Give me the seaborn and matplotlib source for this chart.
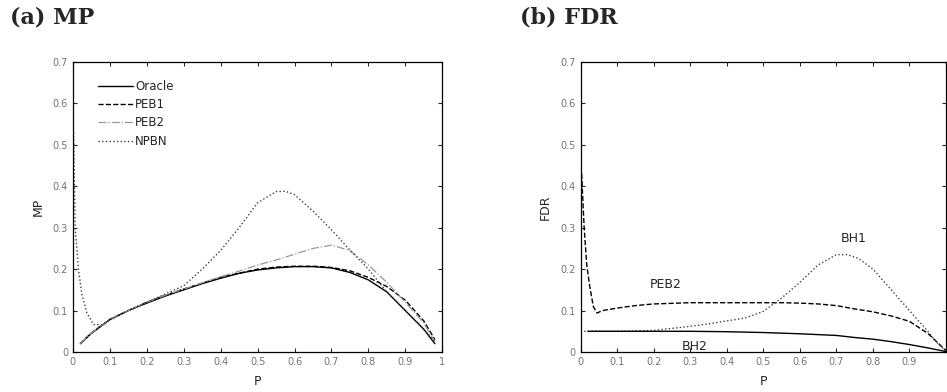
import matplotlib
matplotlib.use("Agg")
import matplotlib.pyplot as plt
import seaborn as sns

# ---- panel (a): MP ----
p_mp = [0.02, 0.05, 0.1, 0.15, 0.2, 0.25, 0.3, 0.35, 0.4, 0.45, 0.5,
        0.55, 0.6, 0.65, 0.7, 0.75, 0.8, 0.85, 0.9, 0.95, 0.98]
mp_oracle = [0.02, 0.045, 0.078, 0.1, 0.118, 0.135, 0.15, 0.165, 0.178, 0.19, 0.198,
             0.203, 0.206, 0.206, 0.203, 0.192, 0.174, 0.145, 0.1, 0.055, 0.02]
mp_peb1 = [0.02, 0.046, 0.079, 0.1, 0.12, 0.137, 0.152, 0.166, 0.18, 0.19, 0.2,
           0.205, 0.207, 0.207, 0.204, 0.196, 0.18, 0.158, 0.125, 0.075, 0.03]
mp_peb2 = [0.02, 0.046, 0.079, 0.1, 0.12, 0.137, 0.152, 0.167, 0.182, 0.195, 0.21,
           0.222, 0.236, 0.25, 0.258, 0.245, 0.21, 0.168, 0.12, 0.07, 0.025]
p_npbn = [0.002, 0.006, 0.015, 0.024, 0.038, 0.056, 0.08, 0.1, 0.15, 0.2, 0.25, 0.3,
          0.35, 0.4, 0.45, 0.5, 0.55, 0.575, 0.6, 0.65, 0.7, 0.75, 0.8, 0.85,
          0.9, 0.95, 0.98]
mp_npbn = [0.53, 0.3, 0.2, 0.14, 0.094, 0.066, 0.066, 0.078, 0.1, 0.12, 0.14, 0.16,
           0.2, 0.245, 0.3, 0.36, 0.387, 0.388, 0.38, 0.34, 0.295, 0.246, 0.2, 0.145,
           0.1, 0.055, 0.025]

# ---- panel (b): FDR ----
p_peb2_fdr = [0.003, 0.01, 0.017, 0.025, 0.035, 0.045, 0.06, 0.1, 0.15, 0.2, 0.3,
              0.4, 0.5, 0.55, 0.6, 0.65, 0.7, 0.75, 0.8, 0.85, 0.9, 0.95, 0.98, 1.0]
fdr_peb2 = [0.43, 0.3, 0.21, 0.16, 0.11, 0.094, 0.1, 0.106, 0.112, 0.116, 0.119,
            0.119, 0.119, 0.119, 0.118, 0.116, 0.112, 0.104, 0.097, 0.087, 0.074,
            0.045, 0.02, 0.003]
p_bh1 = [0.0, 0.1, 0.2, 0.3, 0.35, 0.4, 0.45, 0.5, 0.55, 0.6, 0.65, 0.7, 0.73,
         0.76, 0.8, 0.85, 0.9, 0.95, 0.98, 1.0]
fdr_bh1 = [0.05, 0.05, 0.052, 0.062, 0.068, 0.075, 0.082, 0.098, 0.13, 0.168, 0.21,
           0.235, 0.235, 0.226, 0.2, 0.15, 0.1, 0.05, 0.018, 0.002]
p_bh2 = [0.02, 0.1, 0.2, 0.3, 0.4, 0.5, 0.6, 0.7, 0.75, 0.8, 0.85, 0.9, 0.95, 1.0]
fdr_bh2 = [0.05, 0.05, 0.05, 0.05, 0.049, 0.047, 0.044, 0.04, 0.035, 0.031, 0.025,
           0.018, 0.01, 0.001]

x_ticks = [0, 0.1, 0.2, 0.3, 0.4, 0.5, 0.6, 0.7, 0.8, 0.9, 1]
y_ticks = [0, 0.1, 0.2, 0.3, 0.4, 0.5, 0.6, 0.7]

sns.set_style("ticks")
plt.rcParams["font.family"] = ["DejaVu Sans"]

fig = plt.figure(figsize=(9.47, 3.92), dpi=100)
ax_a = fig.add_axes([0.077, 0.102, 0.390, 0.740])
ax_b = fig.add_axes([0.613, 0.102, 0.386, 0.740])


def style_axes(ax, ylabel, show_last_x=True):
    ax.set_xlim(0, 1)
    ax.set_ylim(0, 0.7)
    ax.set_xticks(x_ticks)
    ax.set_yticks(y_ticks)
    xlabels = [f"{t:g}" for t in x_ticks]
    if not show_last_x:
        xlabels[-1] = ""  # right edge of panel (b) is cut in the original
    ax.set_xticklabels(xlabels, color="0.45", fontsize=7)
    ax.set_yticklabels([f"{t:g}" for t in y_ticks], color="0.45", fontsize=7)
    ax.tick_params(direction="in", top=True, right=True, length=3, width=0.8)
    for s in ax.spines.values():
        s.set_visible(True)
        s.set_linewidth(0.9)
        s.set_color("black")
    ax.set_xlabel("P", fontsize=9, labelpad=6)
    ax.set_ylabel(ylabel, fontsize=9, labelpad=6)


sns.lineplot(x=p_mp, y=mp_oracle, ax=ax_a, color="black", linewidth=1.0, label="Oracle")
sns.lineplot(x=p_mp, y=mp_peb1, ax=ax_a, color="black", linewidth=1.0,
             linestyle="--", label="PEB1")
sns.lineplot(x=p_mp, y=mp_peb2, ax=ax_a, color="0.6", linewidth=0.9,
             linestyle="-.", label="PEB2")
sns.lineplot(x=p_npbn, y=mp_npbn, ax=ax_a, color="0.25", linewidth=1.0,
             linestyle=":", label="NPBN")
style_axes(ax_a, "MP")
ax_a.legend(loc="upper left", frameon=False, fontsize=8.5, handlelength=2.9,
            handletextpad=0.2, labelspacing=0.45, bbox_to_anchor=(0.04, 0.975))

sns.lineplot(x=p_peb2_fdr, y=fdr_peb2, ax=ax_b, color="black", linewidth=1.0,
             linestyle="--")
sns.lineplot(x=p_bh1, y=fdr_bh1, ax=ax_b, color="0.25", linewidth=1.0, linestyle=":")
sns.lineplot(x=p_bh2, y=fdr_bh2, ax=ax_b, color="black", linewidth=1.0)
ax_b.text(0.233, 0.162, "PEB2", fontsize=9, ha="center", va="center")
ax_b.text(0.747, 0.274, "BH1", fontsize=9, ha="center", va="center")
ax_b.text(0.313, 0.014, "BH2", fontsize=9, ha="center", va="center")
style_axes(ax_b, "FDR", show_last_x=False)

fig.text(0.011, 0.955, "(a) MP", family="DejaVu Serif", fontweight="bold",
         fontsize=16, va="center")
fig.text(0.549, 0.955, "(b) FDR", family="DejaVu Serif", fontweight="bold",
         fontsize=16, va="center")

fig.savefig("out.png", dpi=100)
